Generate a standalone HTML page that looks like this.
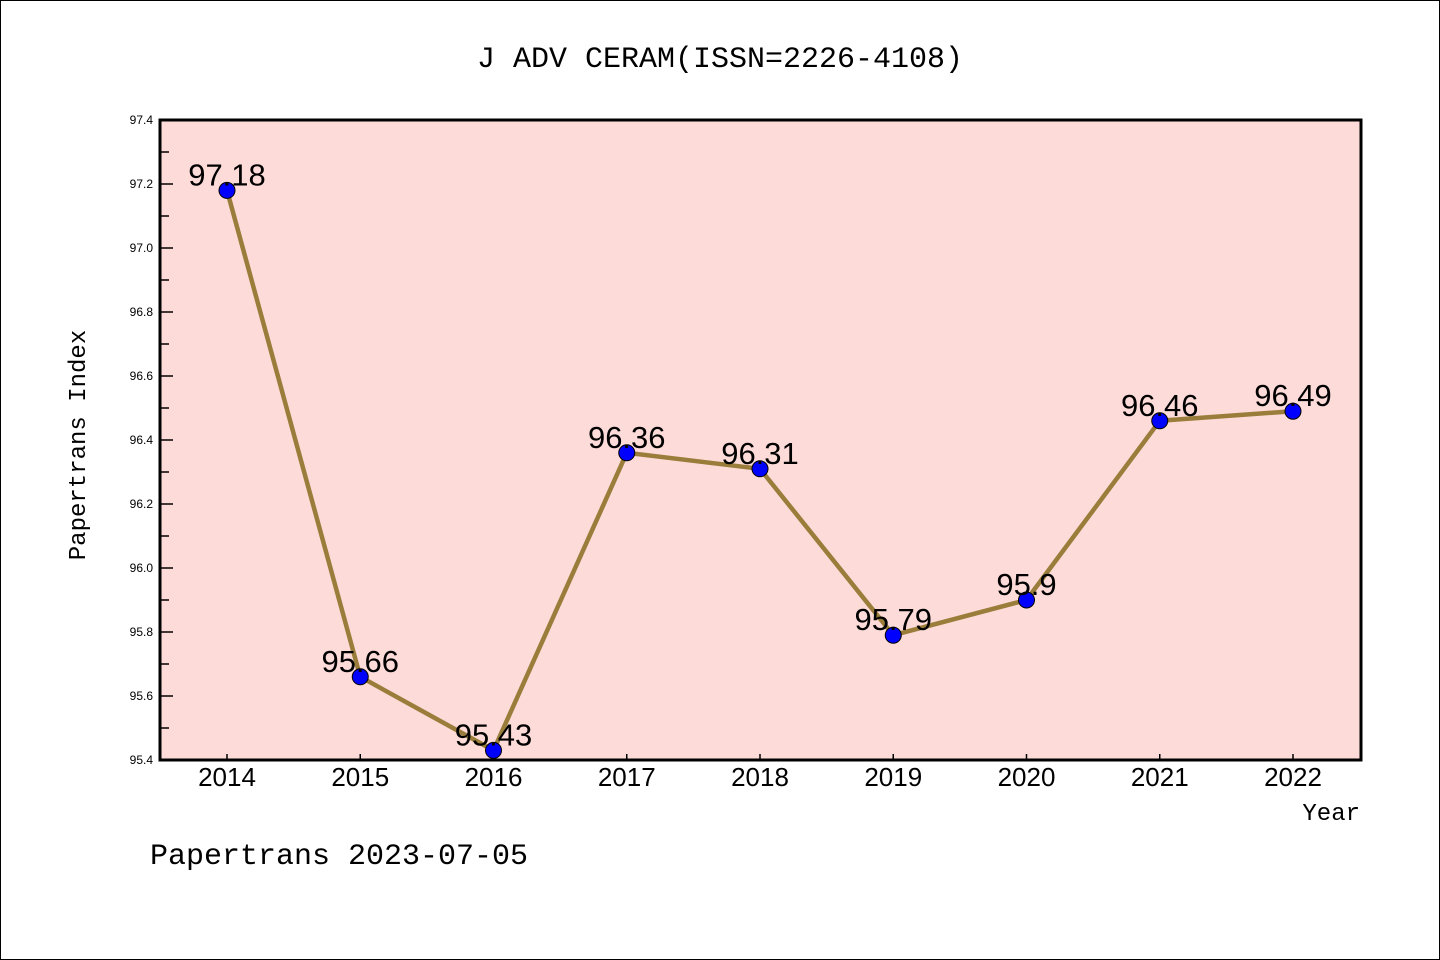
<!DOCTYPE html>
<html><head><meta charset="utf-8"><style>
html,body{margin:0;padding:0;background:#fff;}
svg{display:block;}
text{font-family:"Liberation Sans","WenQuanYi Zen Hei",sans-serif;}
.cjk{font-family:"WenQuanYi Zen Hei","Liberation Mono",monospace;}
</style></head><body>
<svg id="c" width="1440" height="960" xmlns="http://www.w3.org/2000/svg">
<rect x="0.5" y="0.5" width="1439" height="959" fill="#fff" stroke="#000"/>
<text class="cjk" x="720" y="67" font-size="30" text-anchor="middle">J ADV CERAM(ISSN=2226-4108)</text>
<rect x="160" y="120" width="1201" height="640" fill="#fddbd8"/>
<g id="ticks"></g>
<g id="series"></g>
<rect x="160" y="120" width="1201" height="640" fill="none" stroke="#000" stroke-width="3"/>
<text class="cjk" x="85" y="445" font-size="24" text-anchor="middle" transform="rotate(-90 85 445)">Papertrans Index</text>
<text class="cjk" x="1360" y="820" font-size="24" text-anchor="end">Year</text>
<text class="cjk" x="150" y="864" font-size="30">Papertrans 2023-07-05</text>
</svg>
<script>
const years = [2014,2015,2016,2017,2018,2019,2020,2021,2022];
const values = [97.18,95.66,95.43,96.36,96.31,95.79,95.9,96.46,96.49];
const labels = ["97.18","95.66","95.43","96.36","96.31","95.79","95.9","96.46","96.49"];
const yTicks = [95.4,95.6,95.8,96.0,96.2,96.4,96.6,96.8,97.0,97.2,97.4];
const yMin = 95.4, yMax = 97.4;
const NS = "http://www.w3.org/2000/svg";
function xs(i){ return 227 + i*(1293-227)/8; }
function ys(v){ return 760 - (v - yMin)/(yMax - yMin)*640; }
function mk(tag, attrs, parent){ const e=document.createElementNS(NS,tag); for(const k in attrs) e.setAttribute(k,attrs[k]); parent.appendChild(e); return e; }
const tg = document.getElementById('ticks');
yTicks.forEach(v=>{
  const y = ys(v);
  const t = mk('line',{x1:160,x2:173,y1:y,y2:y,stroke:'#000','stroke-width':1.5},tg);
  
  
  const l = mk('text',{x:153,y:y+4,'font-size':12,'text-anchor':'end'},tg);
  l.textContent = v.toFixed(1);
  
  
  if (v < yMax) {
    const ym = ys(v+0.1);
    const m = mk('line',{x1:160,x2:169,y1:ym,y2:ym,stroke:'#000','stroke-width':1.5},tg);
    
    
  }
});
years.forEach((yr,i)=>{
  const x = xs(i);
  const t = mk('line',{x1:x,x2:x,y1:754,y2:760,stroke:'#000','stroke-width':1.5},tg);
  
  
  const l = mk('text',{x:x,y:786,'font-size':26,'text-anchor':'middle'},tg);
  l.textContent = yr;
  
  
});
const sg = document.getElementById('series');
const pts = values.map((v,i)=>xs(i)+','+ys(v)).join(' ');
const pl = mk('polyline',{points:pts,fill:'none',stroke:'#9a7d3a','stroke-width':4.5,'stroke-linejoin':'round'},sg);


values.forEach((v,i)=>{
  const c = mk('circle',{cx:xs(i),cy:ys(v),r:8,fill:'#0000ff',stroke:'#000','stroke-width':1},sg);
  
  
  const l = mk('text',{x:xs(i),y:ys(v)-5,'font-size':31,'text-anchor':'middle'},sg);
  l.textContent = labels[i];
  
  
});
</script>
</body></html>
